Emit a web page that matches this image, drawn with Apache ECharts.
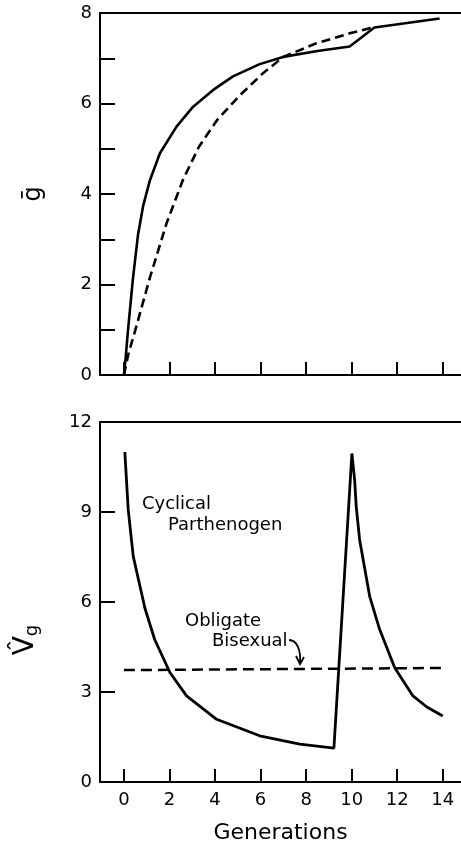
<!DOCTYPE html>
<html>
<head>
<meta charset="utf-8">
<script src="https://cdn.jsdelivr.net/npm/echarts@6/dist/echarts.min.js"></script>
<style>
  html, body { margin: 0; padding: 0; background: #fff; }
  #chart { width: 461px; height: 845px; }
</style>
</head>
<body>
<div id="chart"></div>
<script>
// top panel: mean g, [generation, value]
const meanCyclical = [
  [0, 0], [0.08, 0.4], [0.18, 0.99], [0.39, 2.1], [0.62, 3.1], [0.85, 3.75],
  [1.14, 4.3], [1.58, 4.9], [2.31, 5.49], [3.04, 5.93], [3.92, 6.3], [4.79, 6.6],
  [5.96, 6.87], [6.99, 7.03], [8.5, 7.16], [9.91, 7.26], [11.0, 7.68], [13.86, 7.88]
]
const meanBisexual = [
  [0, 0], [0.19, 0.45], [0.56, 1.1], [1.14, 2.15], [1.87, 3.35], [2.59, 4.31],
  [3.3, 5.05], [4.1, 5.64], [5.09, 6.18], [6.11, 6.67], [7.0, 7.03],
  [8.45, 7.33], [9.91, 7.55], [10.93, 7.68]
]

// bottom panel: genetic variance
const varCyclical = [
  [0.04, 11.0], [0.19, 9.07], [0.41, 7.52], [0.92, 5.8], [1.35, 4.75],
  [2.02, 3.65], [2.75, 2.87], [4.07, 2.09], [5.96, 1.54], [7.72, 1.26],
  [9.22, 1.13], [10.01, 10.95], [10.13, 10.07], [10.2, 9.18], [10.35, 8.07],
  [10.79, 6.19], [11.23, 5.08], [11.89, 3.81], [12.69, 2.87], [13.3, 2.5], [14.0, 2.2]
]
const varBisexual = [[0, 3.73], [14, 3.8]]

const genTicks = [0, 2, 4, 6, 8, 10, 12, 14]
const meanLabels = [0, 2, 4, 6, 8]

const FONT = 'DejaVu Sans'
const black = '#000'

const chart = echarts.init(document.getElementById('chart'))

const baseX = (grid, labels) => ({
  type: 'value',
  gridIndex: grid,
  min: -1.05,
  max: 14.8,
  splitLine: { show: false },
  axisLine: { onZero: false, lineStyle: { color: black, width: 2 } },
  axisTick: { inside: true, length: 13, customValues: genTicks, lineStyle: { color: black, width: 2 } },
  axisLabel: labels
    ? { customValues: genTicks, color: black, fontSize: 18, fontFamily: FONT, margin: 9 }
    : { show: false }
})

const topBorder = grid => ({
  type: 'value',
  gridIndex: grid,
  position: 'top',
  min: -1.05,
  max: 14.8,
  splitLine: { show: false },
  axisLine: { onZero: false, lineStyle: { color: black, width: 2 } },
  axisTick: { show: false },
  axisLabel: { show: false }
})

chart.setOption({
  animation: false,
  grid: [
    { left: 100, right: 0, top: 13, height: 362 },
    { left: 100, right: 0, top: 422, height: 361 }
  ],
  xAxis: [
    baseX(0, false),
    {
      ...baseX(1, true),
      name: 'Generations',
      nameLocation: 'middle',
      nameGap: 40,
      nameTextStyle: { color: black, fontSize: 22, fontFamily: FONT }
    },
    topBorder(0),
    topBorder(1)
  ],
  yAxis: [
    {
      type: 'value',
      gridIndex: 0,
      min: 0,
      max: 8,
      interval: 1,
      name: 'ḡ',
      nameLocation: 'middle',
      nameGap: 54,
      nameRotate: 90,
      nameTextStyle: { color: black, fontSize: 24, fontFamily: FONT },
      splitLine: { show: false },
      axisLine: { onZero: false, lineStyle: { color: black, width: 2 } },
      axisTick: { inside: true, length: 15, lineStyle: { color: black, width: 2 } },
      axisLabel: { customValues: meanLabels, color: black, fontSize: 18, fontFamily: FONT, margin: 8 }
    },
    {
      type: 'value',
      gridIndex: 1,
      min: 0,
      max: 12,
      interval: 3,
      splitLine: { show: false },
      axisLine: { onZero: false, lineStyle: { color: black, width: 2 } },
      axisTick: { inside: true, length: 15, lineStyle: { color: black, width: 2 } },
      axisLabel: { color: black, fontSize: 18, fontFamily: FONT, margin: 8 }
    }
  ],
  series: [
    {
      type: 'line', xAxisIndex: 0, yAxisIndex: 0, data: meanCyclical,
      showSymbol: false, lineStyle: { color: black, width: 2.6 }
    },
    {
      type: 'line', xAxisIndex: 0, yAxisIndex: 0, data: meanBisexual,
      showSymbol: false, lineStyle: { color: black, width: 2.6, type: [9, 5] }
    },
    {
      type: 'line', xAxisIndex: 1, yAxisIndex: 1, data: varCyclical,
      showSymbol: false, lineStyle: { color: black, width: 2.8 }
    },
    {
      type: 'line', xAxisIndex: 1, yAxisIndex: 1, data: varBisexual,
      showSymbol: false, lineStyle: { color: black, width: 2.5, type: [11, 6] }
    }
  ],
  graphic: [
    // y title of lower panel: V-hat sub g
    {
      type: 'text', x: 26, y: 640, rotation: Math.PI / 2,
      style: {
        text: '{v|V̂}{s|g}',
        align: 'center', verticalAlign: 'middle',
        rich: {
          v: { fontSize: 28, fontFamily: FONT, fill: black },
          s: { fontSize: 18, fontFamily: FONT, fill: black, padding: [12, 0, 0, 0] }
        }
      }
    },
    { type: 'text', x: 142, y: 504, style: { text: 'Cyclical', font: '18px "DejaVu Sans"', fill: black, verticalAlign: 'middle' } },
    { type: 'text', x: 168, y: 525, style: { text: 'Parthenogen', font: '18px "DejaVu Sans"', fill: black, verticalAlign: 'middle' } },
    { type: 'text', x: 185, y: 621, style: { text: 'Obligate', font: '18px "DejaVu Sans"', fill: black, verticalAlign: 'middle' } },
    { type: 'text', x: 212, y: 641, style: { text: 'Bisexual', font: '18px "DejaVu Sans"', fill: black, verticalAlign: 'middle' } },
    // curved arrow pointing at the dashed line
    {
      type: 'bezierCurve',
      shape: { x1: 289, y1: 640, cpx1: 297, cpy1: 640, cpx2: 301, cpy2: 650, x2: 300, y2: 663 },
      style: { stroke: black, lineWidth: 1.8, fill: null }
    },
    {
      type: 'polyline',
      shape: { points: [[296, 656], [300, 664], [304, 657]] },
      style: { stroke: black, lineWidth: 1.8, fill: null }
    }
  ]
})
</script>
</body>
</html>
